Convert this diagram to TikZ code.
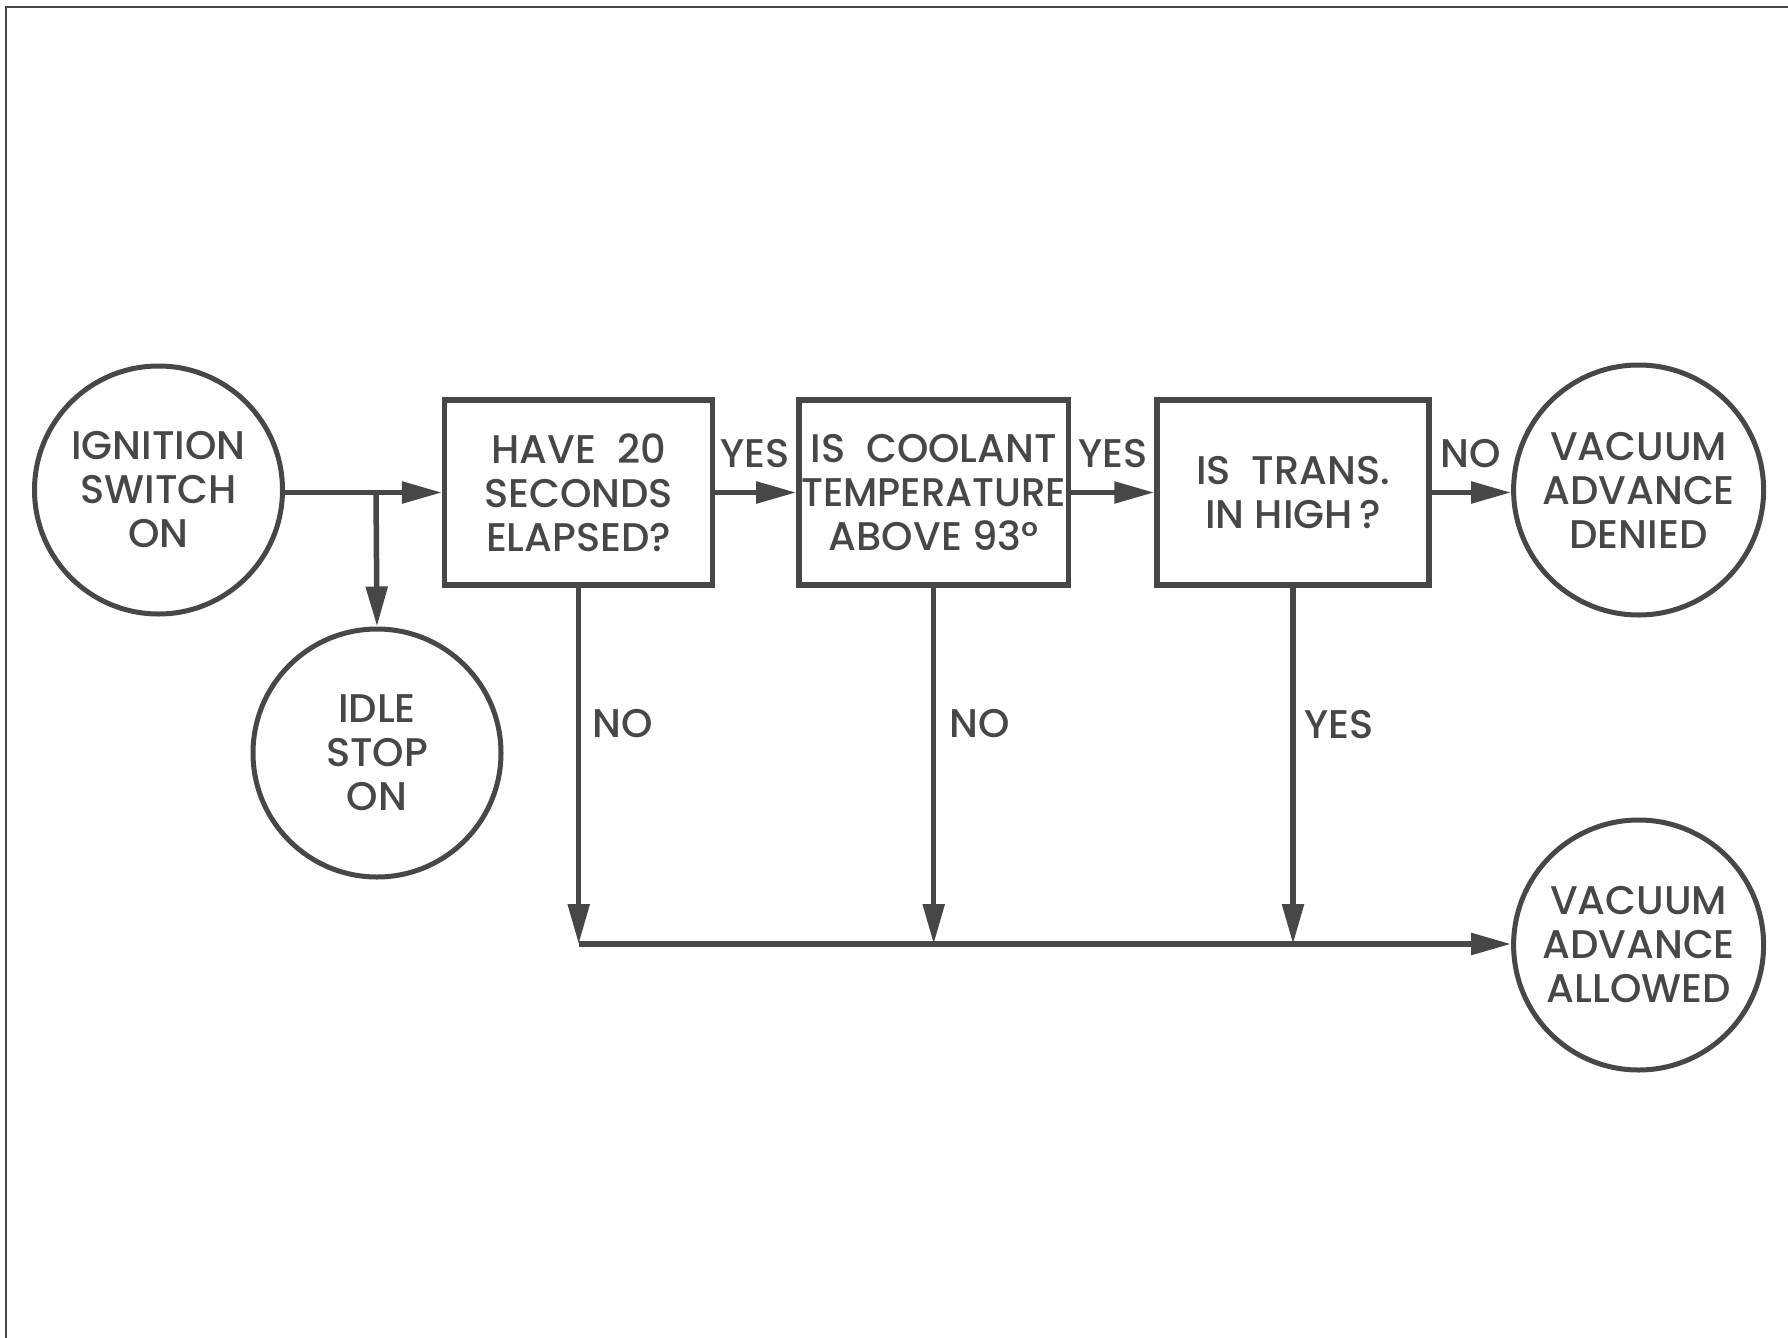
\documentclass[tikz,border=0pt]{standalone}
\usepackage{fontspec}
\setmainfont{Poppins Medium}
\usetikzlibrary{arrows.meta}
\definecolor{ink}{HTML}{474747}
\tikzset{
  every node/.style={font=\fontsize{40}{44}\selectfont, text=ink, align=center},
  circ/.style={draw=ink, line width=5pt, circle, minimum size=248pt, inner sep=0pt},
  boxq/.style={draw=ink, line width=5.5pt, rectangle, minimum height=185pt, inner sep=0pt},
  arr/.style={draw=ink, line width=5.5pt, -{Triangle[length=40pt,width=21pt]}},
  lab/.style={inner sep=0pt}
}
\begin{document}
\begin{tikzpicture}[x=1pt,y=-1pt]
\useasboundingbox (0,0) rectangle (1788,1338);
\draw[ink, line width=2.5pt] (6,1338) -- (6,7) -- (1788,7);
\node[circ] (ign) at (158.5,490) {IGNITION\\SWITCH\\ON};
\node[circ] (idle) at (377,753) {IDLE\\STOP\\ON};
\node[boxq, minimum width=268pt] (b1) at (578.7,492.5) {HAVE\ \ 20\\SECONDS\\ELAPSED?};
\node[boxq, minimum width=269.5pt] (b2) at (933.7,492.5) {IS\ \ COOLANT\\\makebox[250pt][c]{\scalebox{0.97}[1]{TEMPERATURE}}\\ABOVE 93°};
\node[boxq, minimum width=272pt] (b3) at (1293,492.5) {IS\ \ TRANS.\\IN HIGH\,?};
\node[circ, minimum size=250pt] (den) at (1638.6,490) {VACUUM\\ADVANCE\\DENIED};
\node[circ, minimum size=250pt] (all) at (1638.6,945) {VACUUM\\ADVANCE\\ALLOWED};
\coordinate (br) at (376,491.5);
\coordinate (bus) at (0,944);
\draw[arr] (b1.west -| ign.east) -- (b1.west);
\draw[arr] (br) -- (idle.north);
\draw[arr] (b1.east) -- (b2.west);
\draw[arr] (b2.east) -- (b3.west);
\draw[arr] (b3.east) -- (b3.east -| den.west);
\draw[arr] (b1.south) -- (b1.south |- bus);
\draw[arr] (b2.south) -- (b2.south |- bus);
\draw[arr] (b3.south) -- (b3.south |- bus);
\draw[arr] (b1.south |- bus) -- (bus -| all.west);
\node[lab] (y1) at (755,454) {YES};
\node[lab] (y2) at (1113,454) {YES};
\node[lab] (n1) at (1471,454) {NO};
\node[lab] (n2) at (622.6,724) {NO};
\node[lab] (n3) at (979.5,724) {NO};
\node[lab] (y3) at (1338.7,725) {YES};
\end{tikzpicture}
\end{document}
